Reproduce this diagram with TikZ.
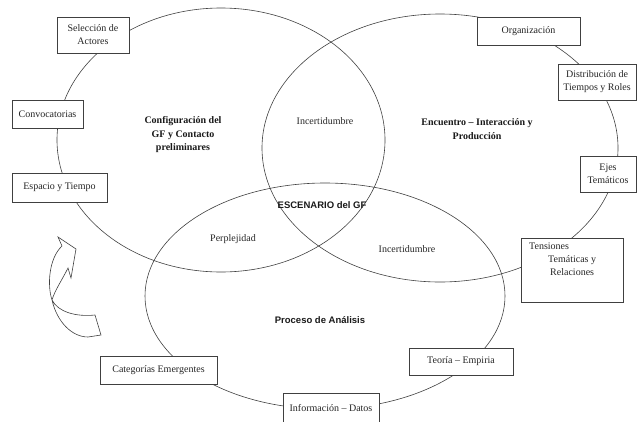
\documentclass[tikz,border=0pt]{standalone}
\usepackage{fontspec}
\setmainfont{Liberation Serif}
\newfontfamily\sansfnt{Liberation Sans}
\begin{document}
\begin{tikzpicture}[x=1pt,y=-1pt,
  ln/.style={draw=black!75, line width=0.6pt},
  boxnode/.style={draw=black!75, line width=0.6pt, fill=white, inner sep=0pt, align=center,
    font=\fontsize{10}{13}\selectfont, text=black!85},
  txt/.style={font=\fontsize{10}{13}\selectfont, text=black!85, align=center, inner sep=0pt},
  title/.style={font=\fontsize{10}{13.5}\selectfont\bfseries, text=black!90, align=center, inner sep=0pt},
  stitle/.style={font=\fontsize{9.5}{12}\selectfont\sansfnt\bfseries, text=black!90, inner sep=0pt}]
\useasboundingbox (0,0) rectangle (637,421);
% circles
\coordinate (c1) at (221,140);
\coordinate (c2) at (440,148);
\coordinate (c3) at (325,296);
\draw[ln] (c1) ellipse [x radius=164pt, y radius=132pt];
\draw[ln] (c2) ellipse [x radius=178pt, y radius=134pt];
\draw[ln] (c3) ellipse [x radius=180pt, y radius=113pt];
% boxes on circle 1
\node[boxnode, minimum width=72pt, minimum height=36pt] (sel) at (93,35) {Selección de\\Actores};
\node[boxnode, minimum width=71pt, minimum height=28pt] (conv) at (47.5,114) {Convocatorias};
\node[boxnode, minimum width=95pt, minimum height=29pt] (esp) at (59.5,187.5) {Espacio y Tiempo};
% boxes on circle 2
\node[boxnode, minimum width=103pt, minimum height=28pt] (org) at (528.5,31) {Organización};
\node[boxnode, minimum width=78pt, minimum height=36pt] (dist) at (597,82) {Distribución de\\Tiempos y Roles};
\node[boxnode, minimum width=56pt, minimum height=36pt] (ejes) at (608,174) {Ejes\\Temáticos};
\node[boxnode, minimum width=102pt, minimum height=64pt] (ten) at (572,270) {};
\node[txt, align=left, anchor=north west] (tentxt) at (529,243) {Tensiones\\\hspace*{19pt}Temáticas y\\\hspace*{21pt}Relaciones};
% boxes on circle 3
\node[boxnode, minimum width=104pt, minimum height=27pt] (teo) at (461,361.5) {Teoría – Empiria};
\node[boxnode, minimum width=96pt, minimum height=30pt] (inf) at (331,408) {Información – Datos};
\node[boxnode, minimum width=117pt, minimum height=28pt] (cat) at (158.5,370) {Categorías Emergentes};
% circle texts
\node[title] (conf) at (183,135) {Configuración del\\GF y Contacto\\preliminares};
\node[title] (enc) at (477,129) {Encuentro – Interacción y\\Producción};
\node[txt] (inc1) at (325,121) {Incertidumbre};
\node[stitle] (esc) at (322,205) {ESCENARIO del GF};
\node[txt] (perp) at (233,239) {Perplejidad};
\node[txt] (inc2) at (407,249) {Incertidumbre};
\node[stitle] (proc) at (320,320) {Proceso de Análisis};
% curved arrow
\draw[ln] (58,237) -- (76,249) -- (71,278) -- (68,268)
  .. controls (62,280) and (55,290) .. (52,300)
  .. controls (58,312) and (76,317) .. (95,315)
  -- (101,335) -- (88,337)
  .. controls (72,337) and (57,322) .. (52,300)
  .. controls (47,285) and (49,258) .. (62,246) -- cycle;
\end{tikzpicture}
\end{document}
